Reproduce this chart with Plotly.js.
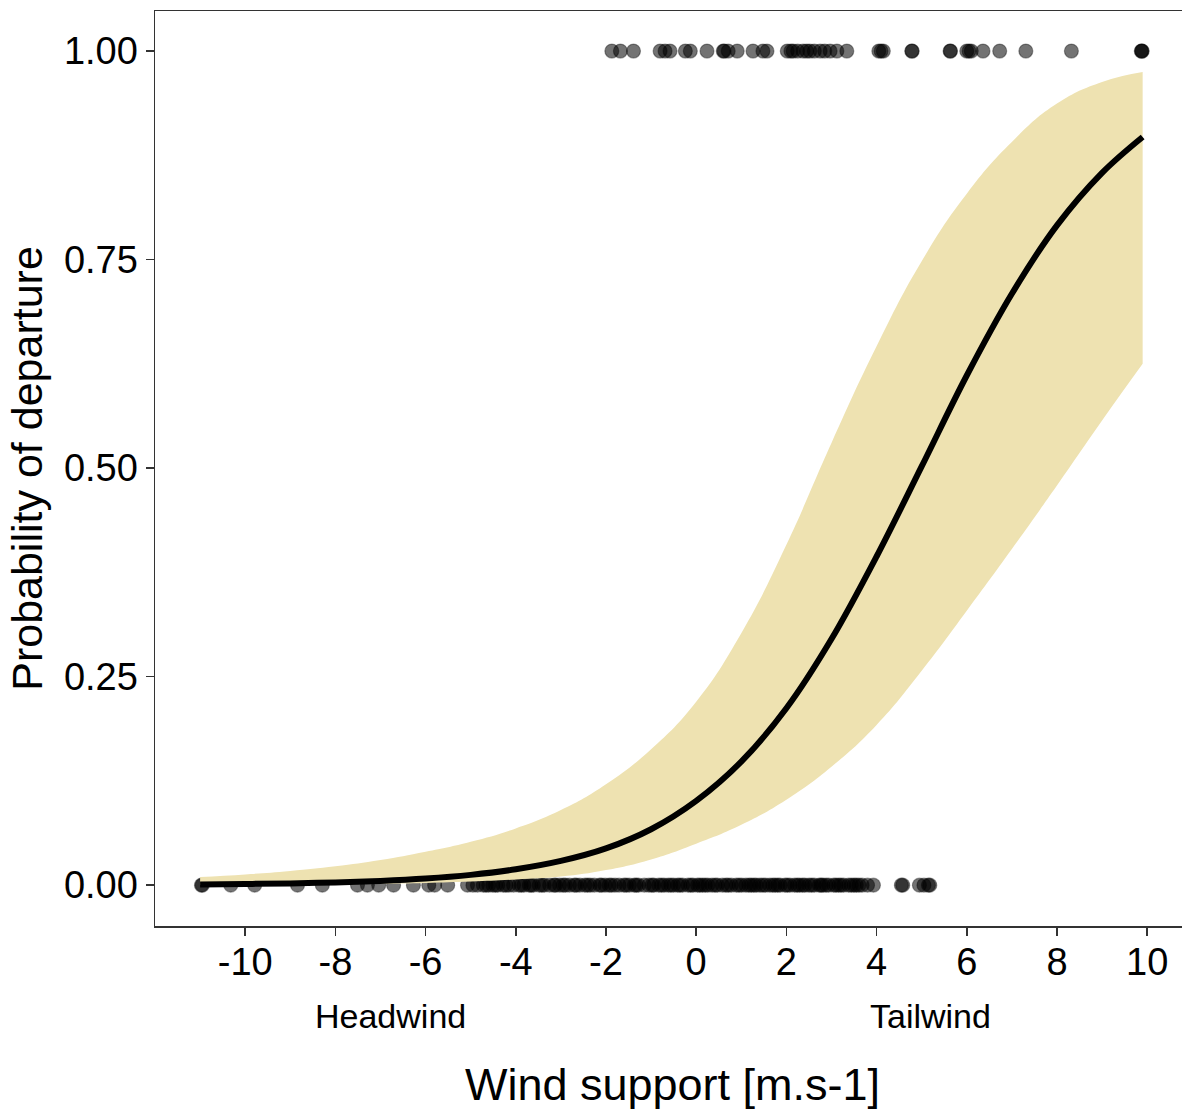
<!DOCTYPE html>
<html>
<head>
<meta charset="utf-8">
<script src="https://cdn.plot.ly/plotly-3.0.1.min.js"></script>
<style>html,body{margin:0;padding:0;background:#fff;overflow:hidden;}#chart{width:1182px;height:1110px;overflow:hidden;}</style>
</head>
<body>
<div id="chart"></div>
<script>
// Fitted curve and confidence band
const curveX = [-11, -10, -9, -8, -7, -6, -5, -4, -3, -2, -1, 0, 1, 2, 3, 4, 5, 6, 7, 8, 9, 9.9];
const fitP   = [0.0009, 0.0014, 0.0021, 0.0033, 0.0051, 0.0079, 0.0123, 0.019, 0.029, 0.044, 0.067, 0.101, 0.148, 0.212, 0.295, 0.394, 0.502, 0.611, 0.709, 0.791, 0.854, 0.897];
const upperP = [0.0096, 0.0128, 0.017, 0.0225, 0.030, 0.040, 0.052, 0.068, 0.090, 0.121, 0.163, 0.220, 0.302, 0.408, 0.530, 0.646, 0.748, 0.829, 0.891, 0.937, 0.963, 0.975];
const lowerP = [0.0002, 0.0003, 0.0006, 0.0010, 0.0017, 0.0027, 0.0043, 0.0067, 0.0102, 0.018, 0.0308, 0.0497, 0.0724, 0.1025, 0.142, 0.192, 0.257, 0.329, 0.403, 0.479, 0.557, 0.625];

// Observed departures (y = 1)
const departX = [-1.87, -1.68, -1.39, -0.80, -0.69, -0.58, -0.24, -0.13, 0.24, 0.60, 0.62, 0.71, 0.91, 1.26, 1.48, 1.57, 2.02, 2.10, 2.15, 2.25, 2.37, 2.45, 2.52, 2.62, 2.75, 2.85, 2.97, 3.12, 3.34, 4.05, 4.10, 4.15, 4.78, 4.79, 5.63, 5.64, 6.00, 6.05, 6.10, 6.36, 6.73, 7.31, 8.32, 9.87, 9.88, 9.89];
// Observed non-departures (y = 0)
const stayX = [-10.97, -10.95, -10.32, -9.79, -8.84, -8.29, -7.51, -7.29, -7.04, -6.71, -6.27, -5.93, -5.80, -5.51, -5.07, -4.85,
  -4.72, -4.60, -4.51, -4.40, -4.28, -4.15, -4.05, -3.93, -3.82, -3.70, -3.61, -3.48, -3.37, -3.25, -3.12, -3.03, -2.90, -2.81, -2.70,
  -2.58, -2.47, -2.35, -2.26, -2.14, -2.02, -1.93, -1.80, -1.71, -1.60, -1.48, -1.37, -1.28, -1.15, -1.05, -0.94, -0.83, -0.71, -0.62,
  -0.50, -0.41, -0.30, -0.18, -0.07, 0.03, 0.14, 0.26, 0.35, 0.47, 0.58, 0.66, 0.78, 0.89, 1.01, 1.10, 1.22, 1.33, 1.41, 1.54, 1.63,
  1.75, 1.86, 1.97, 2.08, 2.18, 2.29, 2.41, 2.50, 2.62, 2.73, 2.81, 2.94, 3.05, 3.16, 3.27, 3.38, 3.50, 3.61,
  -4.95, -4.66, -4.45, -4.22, -3.88, -3.66, -3.42, -3.15, -2.95, -2.66, -2.41, -2.10, -1.88, -1.55, -1.33, -0.98, -0.77, -0.56,
  -0.36, -0.12, 0.08, 0.20, 0.42, 0.71, 0.95, 1.17, 1.28, 1.48, 1.70, 1.81, 2.02, 2.24, 2.36, 2.56, 2.77, 2.88, 3.10, 3.21, 3.44, 3.55,
  3.68, 3.80, 3.93, 4.55, 4.58, 4.95, 5.05, 5.15, 5.18];

const departY = departX.map(() => 1);
const stayY = stayX.map(() => 0);

const xTickVals = [-10, -8, -6, -4, -2, 0, 2, 4, 6, 8, 10];
const xTickText = ['-10', '-8', '-6', '-4', '-2', '0', '2', '4', '6', '8', '10'];
const yTickVals = [0, 0.25, 0.5, 0.75, 1];
const yTickText = ['0.00', '0.25', '0.50', '0.75', '1.00'];

const font = 'Liberation Sans, Arial, sans-serif';
const markerStyle = {size: 14, color: 'rgba(0,0,0,0.55)', line: {width: 1.2, color: 'rgba(0,0,0,0.35)'}};
const bandSpline = {shape: 'spline', smoothing: 1.3};
const fitSpline = {shape: 'spline', smoothing: 1.0};

const traces = [
  {x: stayX, y: stayY, type: 'scatter', mode: 'markers', marker: markerStyle, hoverinfo: 'skip', cliponaxis: false},
  {x: departX, y: departY, type: 'scatter', mode: 'markers', marker: markerStyle, hoverinfo: 'skip', cliponaxis: false},
  {x: curveX, y: lowerP, type: 'scatter', mode: 'lines', line: Object.assign({width: 0}, bandSpline), hoverinfo: 'skip'},
  {x: curveX, y: upperP, type: 'scatter', mode: 'lines', fill: 'tonexty', fillcolor: 'rgb(238,226,177)',
   line: Object.assign({width: 0}, bandSpline), hoverinfo: 'skip'},
  {x: curveX, y: fitP, type: 'scatter', mode: 'lines', line: Object.assign({width: 6, color: '#000'}, fitSpline), hoverinfo: 'skip'}
];

const layout = {
  width: 1204, height: 1110,
  margin: {l: 155, r: 14, t: 11, b: 184},
  paper_bgcolor: '#fff', plot_bgcolor: '#fff',
  showlegend: false,
  font: {family: font, color: '#000'},
  xaxis: {
    range: [-12.0, 10.95], tickvals: xTickVals, ticktext: xTickText, ticks: 'outside', ticklen: 8, tickwidth: 1.5, tickcolor: '#333',
    showline: true, linecolor: '#333', linewidth: 1.5, mirror: true, showgrid: false, zeroline: false,
    ticklabelstandoff: -6,
    tickfont: {size: 38, family: font, color: '#000'},
    title: {text: 'Wind support [m.s-1]', font: {size: 45, family: font, color: '#000'}, standoff: 88}
  },
  yaxis: {
    range: [-0.049, 1.048], tickvals: yTickVals, ticktext: yTickText, ticks: 'outside', ticklen: 8, tickwidth: 1.5, tickcolor: '#333',
    showline: true, linecolor: '#333', linewidth: 1.5, mirror: true, showgrid: false, zeroline: false,
    tickfont: {size: 38, family: font, color: '#000'},
    title: {text: 'Probability of departure', font: {size: 43, family: font, color: '#000'}, standoff: 8}
  },
  annotations: [
    {x: -6.78, xref: 'x', y: -0.098, yref: 'paper', text: 'Headwind', showarrow: false, font: {size: 34, family: font, color: '#000'}, xanchor: 'center', yanchor: 'middle'},
    {x: 5.2, xref: 'x', y: -0.098, yref: 'paper', text: 'Tailwind', showarrow: false, font: {size: 34, family: font, color: '#000'}, xanchor: 'center', yanchor: 'middle'}
  ]
};

Plotly.newPlot('chart', traces, layout, {staticPlot: true, displayModeBar: false});
</script>
</body>
</html>
